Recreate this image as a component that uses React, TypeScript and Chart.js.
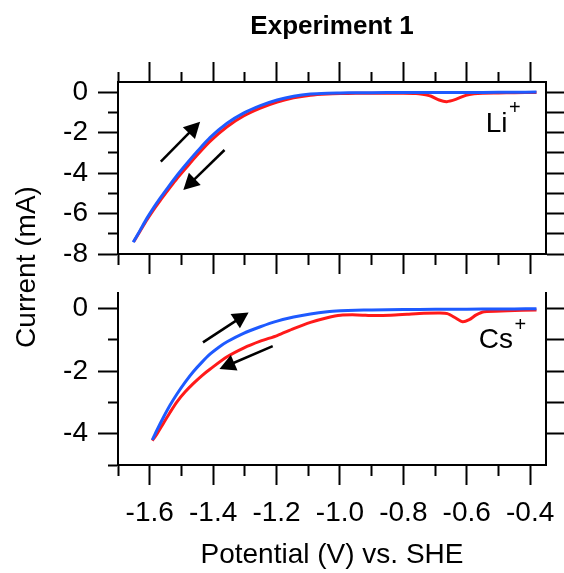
import React, { useEffect, useRef } from 'react';
import { Chart, registerables } from 'chart.js';

Chart.register(...registerables);

const FONT = '"Liberation Sans", Arial, Helvetica, sans-serif';
const W = 564;
const H = 573;

// ---------- data ----------
// Potential axis
const X_MIN = -1.7;
const X_MAX = -0.35;
const xTickValues = [-1.7, -1.6, -1.5, -1.4, -1.3, -1.2, -1.1, -1.0, -0.9, -0.8, -0.7, -0.6, -0.5, -0.4];

// Top panel (Li+)
const TOP_Y_MIN = -8;
const TOP_Y_MAX = 0.5;
const topYTickValues = [-8, -7, -6, -5, -4, -3, -2, -1, 0];

const liBlueV = [-1.652, -1.63, -1.609, -1.588, -1.567, -1.541, -1.514, -1.483, -1.451, -1.409, -1.356, -1.304, -1.251, -1.198, -1.146, -1.093, -1.04, -0.998, -0.95, -0.9, -0.8, -0.7, -0.6, -0.5, -0.45, -0.38];
const liBlueI = [-7.42, -6.82, -6.24, -5.72, -5.24, -4.68, -4.12, -3.53, -2.95, -2.24, -1.54, -1.04, -0.67, -0.39, -0.2, -0.09, -0.05, -0.04, -0.03, -0.03, -0.02, -0.02, -0.02, -0.01, -0.01, 0.0];

const liRedV = [-1.65, -1.63, -1.609, -1.588, -1.567, -1.541, -1.514, -1.483, -1.451, -1.409, -1.356, -1.304, -1.251, -1.198, -1.146, -1.093, -1.04, -0.998, -0.95, -0.9, -0.85, -0.8, -0.76, -0.745, -0.714, -0.687, -0.663, -0.635, -0.603, -0.577, -0.55, -0.5, -0.45, -0.38];
const liRedI = [-7.38, -6.86, -6.32, -5.82, -5.36, -4.82, -4.27, -3.7, -3.12, -2.42, -1.71, -1.18, -0.79, -0.49, -0.28, -0.15, -0.09, -0.07, -0.06, -0.06, -0.06, -0.06, -0.07, -0.09, -0.19, -0.39, -0.47, -0.36, -0.16, -0.08, -0.05, -0.04, -0.03, -0.02];

// Bottom panel (Cs+)
const BOT_Y_MIN = -5;
const BOT_Y_MAX = 0.5;
const botYLeftTickValues = [-5, -4, -3, -2, -1, 0];
const botYRightTickValues = [-4, -3, -2, -1, 0];

const csBlueV = [-1.592, -1.578, -1.557, -1.536, -1.514, -1.488, -1.462, -1.435, -1.409, -1.383, -1.356, -1.304, -1.251, -1.198, -1.146, -1.093, -1.04, -0.998, -0.95, -0.9, -0.8, -0.7, -0.6, -0.5, -0.45, -0.38];
const csBlueI = [-4.2, -3.9, -3.48, -3.09, -2.73, -2.35, -2.01, -1.71, -1.45, -1.24, -1.06, -0.79, -0.58, -0.4, -0.27, -0.17, -0.1, -0.07, -0.05, -0.04, -0.03, -0.02, -0.02, -0.01, -0.01, 0.0];

const csRedV = [-1.592, -1.578, -1.557, -1.536, -1.514, -1.488, -1.462, -1.435, -1.409, -1.356, -1.304, -1.251, -1.198, -1.146, -1.093, -1.04, -0.998, -0.946, -0.893, -0.84, -0.788, -0.735, -0.685, -0.661, -0.635, -0.613, -0.592, -0.57, -0.545, -0.471, -0.38];
const csRedI = [-4.22, -4.02, -3.67, -3.32, -2.98, -2.66, -2.39, -2.14, -1.93, -1.54, -1.26, -1.04, -0.86, -0.64, -0.44, -0.29, -0.21, -0.2, -0.22, -0.21, -0.18, -0.15, -0.14, -0.16, -0.3, -0.42, -0.35, -0.2, -0.1, -0.07, -0.04];

// Scan-direction arrows (tail -> tip, data units)
const arrowsTop = [
  { x0: -1.565, y0: -3.44, x1: -1.441, y1: -1.46 },
  { x0: -1.364, y0: -2.86, x1: -1.494, y1: -4.84 },
];
const arrowsBottom = [
  { x0: -1.432, y0: -1.08, x1: -1.288, y1: -0.12 },
  { x0: -1.212, y0: -1.2, x1: -1.38, y1: -1.93 },
];

// Ion labels (anchor = left/baseline, data units)
const ionTop = { text: 'Li', sup: '+', x: -0.54, y: -1.97 };
const ionBottom = { text: 'Cs', sup: '+', x: -0.562, y: -1.27 };

const TITLE = 'Experiment 1';
const X_TITLE = 'Potential (V) vs. SHE';
const Y_TITLE = 'Current (mA)';

// ---------- style / layout ----------
const RED = '#ff1a1a';
const BLUE = '#1e5aff';
const TICK_FONT = 28;
const PLOT_LEFT = 118;
const PLOT_RIGHT = 546;
const TOP_PLOT_TOP = 82;
const TOP_PLOT_BOTTOM = 254;
const BOT_PLOT_TOP = 293;
const BOT_PLOT_BOTTOM = 465;
const TITLE_SIZE = 26;
const TITLE_PAD_TOP = 11;

const isMajorX = (v: number) => Math.abs(Math.round(v * 10)) % 2 === 0;
const isMajorY = (v: number) => Math.abs(Math.round(v)) % 2 === 0;

const pts = (v: number[], i: number[]) => v.map((x, k) => ({ x, y: i[k] }));

function zeroPad(s: any) {
  s.paddingLeft = 0;
  s.paddingRight = 0;
  s.paddingTop = 0;
  s.paddingBottom = 0;
}

function xScale(position: 'top' | 'bottom', size: number, showLabels: boolean, title?: string) {
  const outerFirst = position === 'top';
  return {
    type: 'linear',
    position,
    min: X_MIN,
    max: X_MAX,
    afterBuildTicks: (s: any) => {
      s.ticks = xTickValues.map((v) => ({ value: v }));
    },
    afterFit: (s: any) => {
      s.height = size;
      zeroPad(s);
    },
    border: { display: true, color: '#000', width: 2 },
    grid: {
      display: true,
      drawOnChartArea: false,
      drawTicks: true,
      tickLength: 20,
      tickWidth: 2,
      tickColor: '#000',
      tickBorderDash: (c: any) =>
        c.tick && !isMajorX(c.tick.value) ? (outerFirst ? [0, 10, 10, 100] : [10, 100]) : [],
    },
    ticks: {
      display: showLabels,
      autoSkip: false,
      maxRotation: 0,
      minRotation: 0,
      padding: 11,
      color: '#000',
      font: { family: FONT, size: TICK_FONT },
      callback: (v: any) => (isMajorX(Number(v)) ? Number(v).toFixed(1) : ''),
    },
    title: title
      ? { display: true, text: title, color: '#000', font: { family: FONT, size: TICK_FONT }, padding: { top: 0, bottom: 1 } }
      : { display: false },
  };
}

function yScale(position: 'left' | 'right', min: number, max: number, tickValues: number[], size: number, showLabels: boolean) {
  const outerFirst = position === 'left';
  return {
    type: 'linear',
    position,
    min,
    max,
    afterBuildTicks: (s: any) => {
      s.ticks = tickValues.map((v) => ({ value: v }));
    },
    afterFit: (s: any) => {
      s.width = size;
      zeroPad(s);
    },
    border: { display: true, color: '#000', width: 2 },
    grid: {
      display: true,
      drawOnChartArea: false,
      drawTicks: true,
      tickLength: 20,
      tickWidth: 2,
      tickColor: '#000',
      tickBorderDash: (c: any) =>
        showLabels && c.tick && !isMajorY(c.tick.value) ? (outerFirst ? [0, 10, 10, 100] : [10, 100]) : [],
    },
    ticks: {
      display: showLabels,
      autoSkip: false,
      padding: 10,
      color: '#000',
      font: { family: FONT, size: TICK_FONT },
      callback: (v: any) => (isMajorY(Number(v)) ? String(Math.round(Number(v))) : ''),
    },
  };
}

function overlayPlugin(id: string, arrows: any[], ion: any, drawYTitle: boolean) {
  return {
    id,
    afterDatasetsDraw(chart: any) {
      const { ctx } = chart;
      const xs = chart.scales.x;
      const ys = chart.scales.y;
      ctx.save();
      ctx.fillStyle = '#000';
      ctx.strokeStyle = '#000';
      arrows.forEach((a) => {
        const px0 = xs.getPixelForValue(a.x0);
        const py0 = ys.getPixelForValue(a.y0);
        const px1 = xs.getPixelForValue(a.x1);
        const py1 = ys.getPixelForValue(a.y1);
        const dx = px1 - px0;
        const dy = py1 - py0;
        const len = Math.hypot(dx, dy) || 1;
        const ux = dx / len;
        const uy = dy / len;
        const headLen = 16;
        const headHalf = 8.5;
        const bx = px1 - ux * headLen;
        const by = py1 - uy * headLen;
        ctx.lineWidth = 2.5;
        ctx.lineCap = 'butt';
        ctx.beginPath();
        ctx.moveTo(px0, py0);
        ctx.lineTo(bx + ux * 2, by + uy * 2);
        ctx.stroke();
        ctx.beginPath();
        ctx.moveTo(px1, py1);
        ctx.lineTo(bx - uy * headHalf, by + ux * headHalf);
        ctx.lineTo(bx + uy * headHalf, by - ux * headHalf);
        ctx.closePath();
        ctx.fill();
      });
      // ion label
      const lx = xs.getPixelForValue(ion.x);
      const ly = ys.getPixelForValue(ion.y);
      ctx.textAlign = 'left';
      ctx.textBaseline = 'alphabetic';
      ctx.font = `${TICK_FONT}px ${FONT}`;
      ctx.fillText(ion.text, lx, ly);
      const w = ctx.measureText(ion.text).width;
      ctx.font = `20px ${FONT}`;
      ctx.fillText(ion.sup, lx + w + 1.5, ly - 17.5);
      if (drawYTitle) {
        ctx.translate(27, 267);
        ctx.rotate(-Math.PI / 2);
        ctx.textAlign = 'center';
        ctx.textBaseline = 'middle';
        ctx.font = `${TICK_FONT}px ${FONT}`;
        ctx.fillText(Y_TITLE, 0, 0);
      }
      ctx.restore();
    },
  };
}

function lineDs(label: string, data: any[], color: string) {
  return {
    label,
    data,
    borderColor: color,
    backgroundColor: color,
    borderWidth: 3,
    pointRadius: 0,
    tension: 0.25,
    fill: false,
  };
}

export default function App() {
  const refA = useRef<HTMLCanvasElement>(null);
  const refB = useRef<HTMLCanvasElement>(null);

  useEffect(() => {
    const titleBlock = TITLE_PAD_TOP + TITLE_SIZE * 1.2;
    const chartA = new Chart(refA.current as HTMLCanvasElement, {
      type: 'line',
      data: {
        datasets: [
          lineDs('Li+ forward', pts(liBlueV, liBlueI), BLUE),
          lineDs('Li+ reverse', pts(liRedV, liRedI), RED),
        ],
      },
      options: {
        responsive: false,
        animation: false,
        layout: { padding: 0 },
        scales: {
          x: xScale('bottom', H - TOP_PLOT_BOTTOM, false),
          xTop: xScale('top', TOP_PLOT_TOP - titleBlock, false),
          y: yScale('left', TOP_Y_MIN, TOP_Y_MAX, topYTickValues, PLOT_LEFT, true),
          yRight: yScale('right', TOP_Y_MIN, TOP_Y_MAX, topYTickValues, W - PLOT_RIGHT, false),
        } as any,
        plugins: {
          legend: { display: false },
          tooltip: { enabled: false },
          title: {
            display: true,
            text: TITLE,
            fullSize: false,
            color: '#000',
            font: { family: FONT, size: TITLE_SIZE, weight: 'bold', lineHeight: 1.2 },
            padding: { top: TITLE_PAD_TOP, bottom: 0 },
          },
        },
      } as any,
      plugins: [overlayPlugin('overlayTop', arrowsTop, ionTop, true)],
    } as any);

    const chartB = new Chart(refB.current as HTMLCanvasElement, {
      type: 'line',
      data: {
        datasets: [
          lineDs('Cs+ forward', pts(csBlueV, csBlueI), BLUE),
          lineDs('Cs+ reverse', pts(csRedV, csRedI), RED),
        ],
      },
      options: {
        responsive: false,
        animation: false,
        layout: { padding: { top: BOT_PLOT_TOP, left: 0, right: 0, bottom: 0 } },
        scales: {
          x: xScale('bottom', H - BOT_PLOT_BOTTOM, true, X_TITLE),
          y: yScale('left', BOT_Y_MIN, BOT_Y_MAX, botYLeftTickValues, PLOT_LEFT, true),
          yRight: yScale('right', BOT_Y_MIN, BOT_Y_MAX, botYRightTickValues, W - PLOT_RIGHT, false),
        } as any,
        plugins: {
          legend: { display: false },
          tooltip: { enabled: false },
          title: { display: false },
        },
      } as any,
      plugins: [overlayPlugin('overlayBottom', arrowsBottom, ionBottom, false)],
    } as any);

    return () => {
      chartA.destroy();
      chartB.destroy();
    };
  }, []);

  return (
    <div style={{ position: 'fixed', left: 0, top: 0, width: W, height: H, background: '#fff' }}>
      <canvas ref={refA} width={W} height={H} style={{ position: 'absolute', left: 0, top: 0 }} />
      <canvas ref={refB} width={W} height={H} style={{ position: 'absolute', left: 0, top: 0 }} />
    </div>
  );
}
